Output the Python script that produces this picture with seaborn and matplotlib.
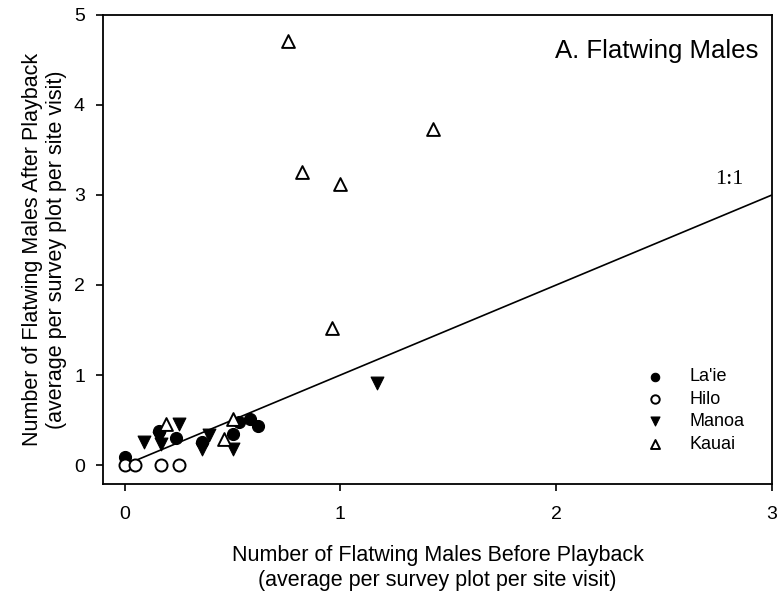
import numpy as np
import pandas as pd
import matplotlib
matplotlib.use("Agg")
import matplotlib.pyplot as plt
import seaborn as sns

# flatwing males before / after playback, per site
laie_before = [0.00, 0.16, 0.24, 0.36, 0.50, 0.53, 0.58, 0.62]
laie_after = [0.09, 0.38, 0.30, 0.26, 0.35, 0.48, 0.51, 0.43]

hilo_before = [0.00, 0.05, 0.17, 0.25]
hilo_after = [0.00, 0.00, 0.00, 0.00]

manoa_before = [0.09, 0.16, 0.17, 0.25, 0.39, 0.36, 0.50, 1.17]
manoa_after = [0.26, 0.30, 0.23, 0.46, 0.33, 0.18, 0.18, 0.91]

kauai_before = [0.19, 0.46, 0.50, 0.755, 0.82, 1.00, 1.43, 0.96]
kauai_after = [0.46, 0.29, 0.51, 4.71, 3.26, 3.12, 3.73, 1.52]

sites = ["La'ie", "Hilo", "Manoa", "Kauai"]

sns.set_style("ticks")
plt.rcParams['font.family'] = ['Liberation Sans', 'DejaVu Sans']
plt.rcParams['text.color'] = 'black'
plt.rcParams['axes.labelcolor'] = 'black'
plt.rcParams['xtick.color'] = 'black'
plt.rcParams['ytick.color'] = 'black'

fig = plt.figure(figsize=(7.77, 5.95), dpi=100)
ax = fig.add_axes([0.1326, 0.1866, 0.861, 0.7884])

# 1:1 line
ax.plot([0, 3], [0, 3], color='black', lw=1.2, zorder=1)

sns.scatterplot(x=laie_before, y=laie_after, marker='o', color='black',
                edgecolor='black', s=75, linewidth=0.8, label=sites[0], ax=ax, zorder=3)
sns.scatterplot(x=hilo_before, y=hilo_after, marker='o', color='white',
                edgecolor='black', s=75, linewidth=1.4, label=sites[1], ax=ax, zorder=3)
sns.scatterplot(x=manoa_before, y=manoa_after, marker='v', color='black',
                edgecolor='black', s=85, linewidth=0.8, label=sites[2], ax=ax, zorder=3)
sns.scatterplot(x=kauai_before, y=kauai_after, marker='^', color='white',
                edgecolor='black', s=85, linewidth=1.4, label=sites[3], ax=ax, zorder=3)

ax.set_xlim(-0.1, 3)
ax.set_ylim(-0.21, 5)
ax.set_xticks([0, 1, 2, 3])
ax.set_yticks([0, 1, 2, 3, 4, 5])
ax.tick_params(direction='out', length=5, width=1.2, labelsize=14, color='black')
ax.tick_params(axis='x', pad=11)
ax.tick_params(axis='y', pad=8)
for sp in ax.spines.values():
    sp.set_visible(True)
    sp.set_linewidth(1.3)
    sp.set_color('black')

ax.set_xlabel("Number of Flatwing Males Before Playback\n(average per survey plot per site visit)",
              fontsize=15.5, labelpad=16, linespacing=1.2)
ax.set_ylabel("Number of Flatwing Males After Playback\n(average per survey plot per site visit)",
              fontsize=15.5, labelpad=5, linespacing=1.2)

ax.text(0.98, 0.923, "A. Flatwing Males", transform=ax.transAxes, ha='right', va='center',
        fontsize=18.5)
ax.text(0.957, 0.648, "1:1", transform=ax.transAxes, ha='right', va='center',
        fontsize=16, family=['Liberation Serif', 'DejaVu Serif'])

leg = ax.legend(loc='upper left', bbox_to_anchor=(0.787, 0.262), frameon=False,
                fontsize=13, markerscale=0.7, handletextpad=0.9, labelspacing=0.3,
                borderaxespad=0)

fig.savefig("out.png", dpi=100)
